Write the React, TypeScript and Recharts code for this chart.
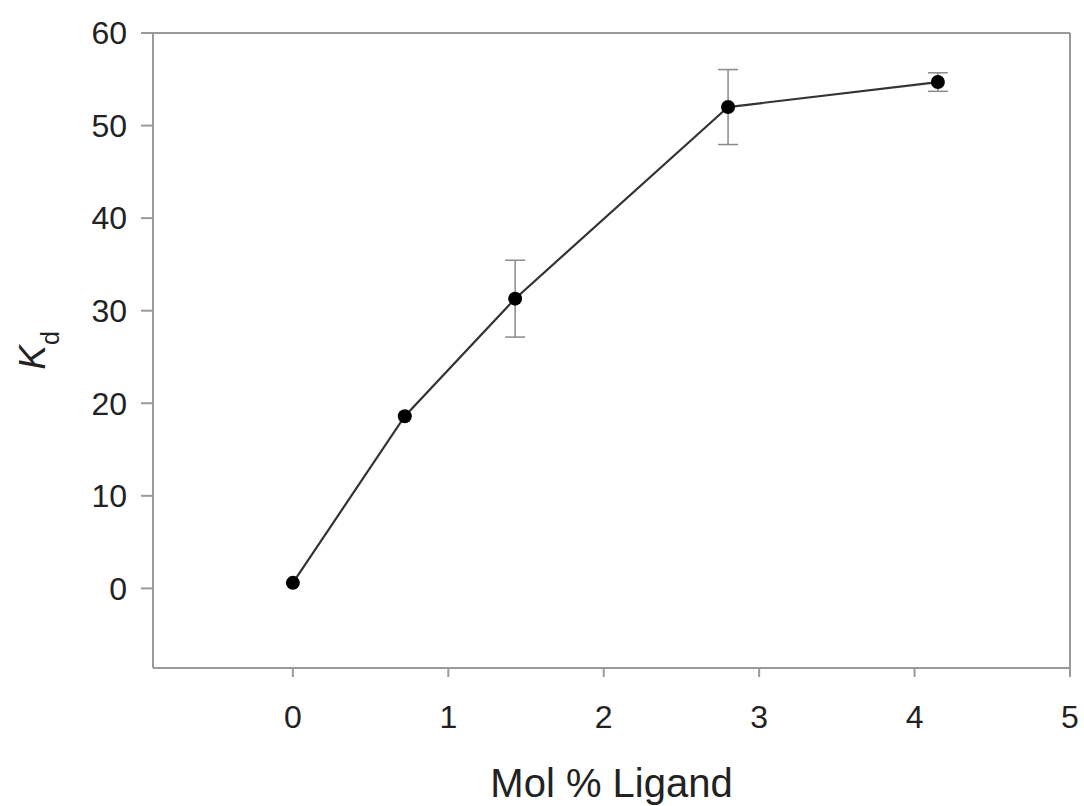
import React from 'react';
import { LineChart, Line, XAxis, YAxis, ErrorBar, ReferenceLine } from 'recharts';

const molPercent = [0, 0.72, 1.43, 2.8, 4.15];
const kdValues = [0.6, 18.6, 31.3, 52.0, 54.7];
const kdErrors = [0, 0, 4.15, 4.05, 1.0];
const xTicks = [0, 1, 2, 3, 4, 5];
const yTicks = [0, 10, 20, 30, 40, 50, 60];

const data = molPercent.map((x, i) => ({ x, kd: kdValues[i], err: kdErrors[i] }));

const FONT = '"Liberation Sans", Arial, sans-serif';
const AXIS = '#9a9a9a';

const KdLabel = (props: any) => {
  const vb = props.viewBox || { x: 0, y: 0, width: 0, height: 0 };
  const cx = vb.x + 45;
  const cy = vb.y + vb.height / 2;
  return (
    <text
      x={cx}
      y={cy}
      textAnchor="middle"
      transform={`rotate(-90, ${cx}, ${cy})`}
      fontFamily={FONT}
      fill="#222"
    >
      <tspan fontSize={37} fontStyle="italic">K</tspan>
      <tspan fontSize={25} dy={14}>d</tspan>
    </text>
  );
};

export default function App() {
  return (
    <div style={{ position: 'absolute', left: 0, top: 0, background: '#fff' }}>
      <LineChart
        width={1084}
        height={806}
        data={data}
        margin={{ top: 33, right: 14, left: 0, bottom: 0 }}
      >
        <XAxis
          type="number"
          dataKey="x"
          domain={[-0.9, 5]}
          ticks={xTicks}
          allowDataOverflow
          height={138}
          stroke={AXIS}
          strokeWidth={2}
          tickSize={9}
          tickMargin={28}
          tick={{ fill: '#222', fontSize: 32, fontFamily: FONT }}
          tickLine={{ stroke: AXIS, strokeWidth: 2 }}
          label={{
            value: 'Mol % Ligand',
            position: 'insideBottom',
            offset: 9,
            fill: '#222',
            fontSize: 40,
            fontFamily: FONT,
          }}
        />
        <YAxis
          type="number"
          domain={[-8.6, 60]}
          ticks={yTicks}
          allowDataOverflow
          width={153}
          stroke={AXIS}
          strokeWidth={2}
          tickSize={12}
          tickMargin={14}
          tick={{ fill: '#222', fontSize: 32, fontFamily: FONT }}
          tickLine={{ stroke: AXIS, strokeWidth: 2 }}
          label={<KdLabel />}
        />
        <ReferenceLine y={60} stroke={AXIS} strokeWidth={2} />
        <ReferenceLine x={5} stroke={AXIS} strokeWidth={2} />
        <Line
          type="linear"
          dataKey="kd"
          stroke="#333"
          strokeWidth={2.2}
          isAnimationActive={false}
          dot={{ r: 7, fill: '#000', stroke: '#000', strokeWidth: 0 }}
        >
          <ErrorBar dataKey="err" direction="y" width={10} stroke="#8a8a8a" strokeWidth={1.5} />
        </Line>
      </LineChart>
    </div>
  );
}
